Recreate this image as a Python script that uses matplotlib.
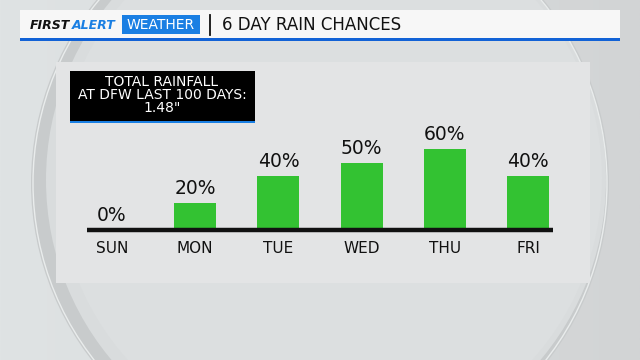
import matplotlib
matplotlib.use("Agg")
import matplotlib.pyplot as plt
from matplotlib.patches import Rectangle, Circle
from matplotlib.colors import LinearSegmentedColormap
import numpy as np

days = ["SUN", "MON", "TUE", "WED", "THU", "FRI"]
chances = [0, 20, 40, 50, 60, 40]
title = "6 DAY RAIN CHANCES"
box_lines = ["TOTAL RAINFALL", "AT DFW LAST 100 DAYS:", '1.48"']

FONT = "DejaVu Sans"
GREEN = "#33c232"
BLUE = "#1a7fe3"

fig = plt.figure(figsize=(6.4, 3.6), dpi=100)

bg = fig.add_axes([0, 0, 1, 1])
bg.set_xlim(0, 640)
bg.set_ylim(360, 0)
bg.axis("off")

grad = np.linspace(0, 1, 256)[None, :]
cm = LinearSegmentedColormap.from_list("bgc", ["#dfe3e4", "#d9dcdd", "#d2d4d5"])
bg.imshow(grad, extent=(0, 640, 360, 0), cmap=cm, aspect="auto", zorder=0)

# lens circle (subtle)
bg.add_patch(Circle((320, 183), 289, facecolor="#c8cbcc", edgecolor="none", zorder=1))
bg.add_patch(Circle((326, 180), 280, facecolor="#d9dcdd", edgecolor="none", zorder=1))
bg.add_patch(Circle((330, 178), 272, facecolor="#dcdfe0", edgecolor="none", zorder=1))
bg.add_patch(Circle((320, 183), 287, facecolor="none", edgecolor="#e9ecec", lw=1.0, zorder=1))

# panel
bg.add_patch(Rectangle((56, 62), 534, 221, facecolor="#e3e4e5", edgecolor="none", zorder=2))

# header bar
bg.add_patch(Rectangle((20, 10), 600, 28, facecolor="#f7f7f7", edgecolor="none", zorder=3))
bg.add_patch(Rectangle((20, 38), 600, 3, facecolor="#1262d6", edgecolor="none", zorder=3))
bg.text(30, 25.5, "FIRST", fontsize=9, fontweight="bold", style="italic", color="#111111",
        family=FONT, va="center", ha="left", zorder=4)
bg.text(72, 25.5, "ALERT", fontsize=9, fontweight="bold", style="italic", color=BLUE,
        family=FONT, va="center", ha="left", zorder=4)
bg.add_patch(Rectangle((122, 15), 78, 19, facecolor=BLUE, edgecolor="none", zorder=4))
bg.text(161, 25, "WEATHER", fontsize=10, color="white", family=FONT,
        va="center", ha="center", zorder=5)
bg.plot([210, 210], [15, 35], color="#111111", lw=1.3, zorder=4)
bg.text(222, 25, title, fontsize=12, color="#111111", family=FONT,
        va="center", ha="left", zorder=4)

# black info box
bg.add_patch(Rectangle((70, 71), 185, 50, facecolor="black", edgecolor="none", zorder=3))
bg.add_patch(Rectangle((70, 120.5), 185, 2.5, facecolor=BLUE, edgecolor="none", zorder=3))
for i, line in enumerate(box_lines):
    bg.text(162, 82.5 + i * 12.5, line, fontsize=10, color="white", family=FONT,
            va="center", ha="center", zorder=4)

# bar axes
left_px, right_px = 70, 570
base_px, top_px = 230, 95
ax = fig.add_axes([left_px / 640, (360 - base_px) / 360,
                   (right_px - left_px) / 640, (base_px - top_px) / 360])
ax.patch.set_alpha(0)
ax.set_zorder(5)
x = np.arange(len(days))
ax.set_xlim(-0.505, 5.505)
ax.set_ylim(0, 100)
ax.bar(x, chances, width=0.505, color=GREEN, zorder=2)
ax.plot([-0.30, 5.30], [0, 0], color="#111111", lw=3.2, solid_capstyle="butt",
        clip_on=False, zorder=3)
for xi, v in zip(x, chances):
    ax.annotate(f"{v}%", (xi, v), xytext=(0, 3.5), textcoords="offset points",
                ha="center", va="bottom", fontsize=13.5, family=FONT, color="#111111")
ax.set_xticks(x)
ax.set_xticklabels(days, fontsize=11, family=FONT, color="#111111")
ax.tick_params(axis="x", length=0, pad=8)
ax.set_yticks([])
for s in ax.spines.values():
    s.set_visible(False)

fig.savefig("out.png", dpi=100)
